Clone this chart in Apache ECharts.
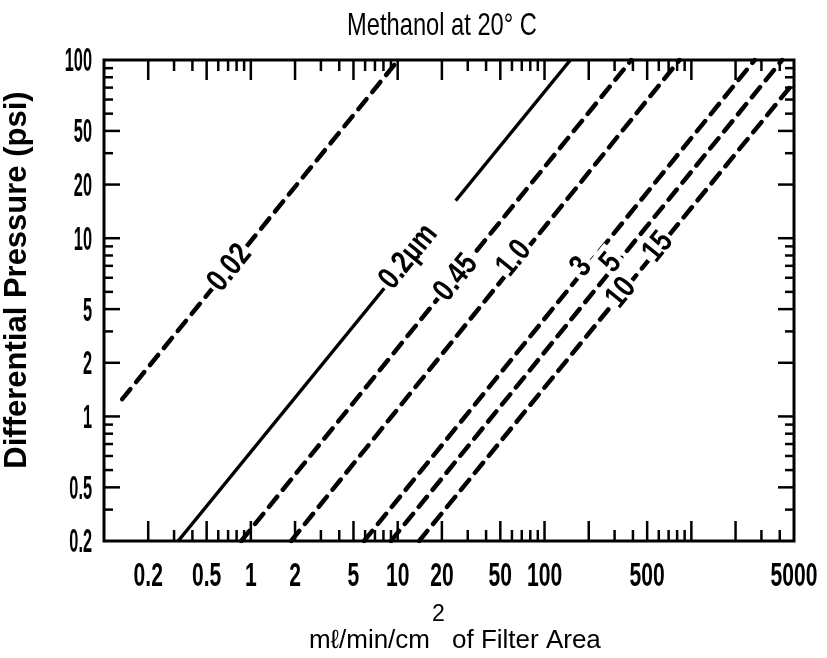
<!DOCTYPE html>
<html>
<head>
<meta charset="utf-8">
<title>Methanol at 20° C</title>
<script src="https://cdn.jsdelivr.net/npm/echarts@6/dist/echarts.min.js"></script>
<style>
  html, body { margin: 0; padding: 0; background: #fff; }
  #main { width: 827px; height: 658px; }
</style>
</head>
<body>
<div id="main"></div>
<script>
// axis ranges (flow in ml/min/cm2, pressure in psi)
var xMin = 0.1, xMax = 5000;
var yMin = 0.2, yMax = 100;

// tick marks
var xTicks = [0.2, 0.3, 0.4, 0.5, 0.6, 0.7, 0.8, 0.9, 1, 2, 3, 4, 5, 6, 7, 8, 9,
  10, 20, 30, 40, 50, 60, 70, 80, 90, 100, 200, 300, 400, 500, 600, 700, 800, 900,
  1000, 2000, 3000, 4000];
var xMajor = [0.2, 0.5, 1, 2, 5, 10, 20, 50, 100, 200, 500, 1000, 2000];
var yTicks = [0.3, 0.4, 0.5, 0.6, 0.7, 0.8, 0.9, 1, 2, 3, 4, 5, 6, 7, 8, 9,
  10, 20, 30, 40, 50, 60, 70, 80, 90];
var yMajor = [40, 20, 10, 4, 2, 1, 0.4];

// tick labels (the y labels sit where the original printed them)
var xLabelVals = [0.2, 0.5, 1, 2, 5, 10, 20, 50, 100, 500, 5000];
var xLabelText = ['0.2', '0.5', '1', '2', '5', '10', '20', '50', '100', '500', '5000'];
var yLabelVals = [100, 40, 20, 10, 4, 2, 1, 0.4, 0.2];
var yLabelText = ['100', '50', '20', '10', '5', '2', '1', '0.5', '0.2'];

// pore size lines: [flow, pressure] end points
var line002 = [[0.133, 1.25], [10.1, 100]];
var line02 = [[0.32, 0.2], [150, 100]];
var line045 = [[0.86, 0.2], [390, 100]];
var line10 = [[1.88, 0.2], [830, 100]];
var line3 = [[5.9, 0.2], [2700, 100]];
var line5 = [[9.0, 0.2], [4150, 100]];
var line1015 = [[14, 0.2], [5000, 75]];

// labels written on the lines
var lblText = ['0.02', '0.2\u00b5m', '0.45', '1.0', '3', '5', '10', '15'];
var lblFlow = [0.72, 14, 25, 62, 178, 284, 333, 594];
var lblPress = [6.8, 9.3, 6.0, 7.7, 6.9, 7.26, 4.93, 8.93];

var chart = echarts.init(document.getElementById('main'));

var FONT = '"Liberation Sans", Arial, sans-serif';
var ROT = 51 * Math.PI / 180;
var lblPad = [[2, 3, 2, 3], [2, 46, 2, 4], [2, 3, 2, 3], [2, 3, 2, 3],
  [2, 5, 2, 5], [2, 5, 2, 5], [2, 3, 2, 3], [2, 3, 2, 3]];

function nameText(text, x, y, size, align) {
  return {
    type: 'text', x: x, y: y, z: 10,
    style: {
      text: text, fontSize: size, fontFamily: 'Liberation Sans', fill: '#000',
      align: align, verticalAlign: 'middle',
      textAlign: align, textVerticalAlign: 'middle'
    }
  };
}

function dashed(data, solid) {
  return {
    type: 'line',
    data: data,
    symbol: 'none',
    z: 2,
    lineStyle: {
      color: '#000',
      width: solid ? 3.5 : 4.5,
      type: solid ? 'solid' : [13, 9],
      cap: solid ? 'butt' : 'round'
    }
  };
}

var option = {
  animation: false,
  backgroundColor: '#fff',
  grid: {
    show: true,
    left: 104, top: 60, width: 690, height: 481,
    borderColor: '#000', borderWidth: 3,
    outerBoundsMode: 'none'
  },
  xAxis: {
    type: 'log', logBase: 10, min: xMin, max: xMax,
    axisLine: { show: false }, axisTick: { show: false },
    axisLabel: { show: false }, splitLine: { show: false }
  },
  yAxis: {
    type: 'log', logBase: 10, min: yMin, max: yMax,
    axisLine: { show: false }, axisTick: { show: false },
    axisLabel: { show: false }, splitLine: { show: false }
  },
  graphic: [
    {
      type: 'text', x: 442, y: 26, z: 10, scaleX: 0.74,
      style: {
        text: 'Methanol at 20\u00b0 C', font: '32px ' + FONT, fill: '#000',
        align: 'center', verticalAlign: 'middle',
        textAlign: 'center', textVerticalAlign: 'middle'
      }
    },
    {
      type: 'text', x: 17, y: 280, rotation: Math.PI / 2, z: 10,
      style: {
        text: 'Differential Pressure (psi)', font: 'bold 31px ' + FONT, fill: '#000',
        align: 'center', verticalAlign: 'middle',
        textAlign: 'center', textVerticalAlign: 'middle'
      }
    },
    nameText('m\u2113/min/cm', 430, 641, 26, 'right'),
    nameText('2', 432, 615, 23, 'left'),
    nameText('of Filter Area', 452, 641, 26, 'left')
  ],
  series: [
    dashed(line002),
    dashed(line02, true),
    dashed(line045),
    dashed(line10),
    dashed(line3),
    dashed(line5),
    dashed(line1015),
    {
      // x ticks, bottom and top, pointing inward
      type: 'custom', clip: false, z: 5,
      data: xTicks.map(function (v) { return [v, yMin]; }),
      renderItem: function (params, api) {
        var v = api.value(0);
        var len = xMajor.indexOf(v) >= 0 ? 20 : 11;
        var b = api.coord([v, yMin]);
        var t = api.coord([v, yMax]);
        var st = { stroke: '#000', lineWidth: 2.5 };
        return {
          type: 'group', children: [
            { type: 'line', shape: { x1: b[0], y1: b[1], x2: b[0], y2: b[1] - len }, style: st },
            { type: 'line', shape: { x1: t[0], y1: t[1], x2: t[0], y2: t[1] + len }, style: st }
          ]
        };
      }
    },
    {
      // y ticks, left and right, pointing inward
      type: 'custom', clip: false, z: 5,
      data: yTicks.map(function (v) { return [xMin, v]; }),
      renderItem: function (params, api) {
        var v = api.value(1);
        var len = yMajor.indexOf(v) >= 0 ? 16 : 9;
        var l = api.coord([xMin, v]);
        var r = api.coord([xMax, v]);
        var st = { stroke: '#000', lineWidth: 2.5 };
        return {
          type: 'group', children: [
            { type: 'line', shape: { x1: l[0], y1: l[1], x2: l[0] + len, y2: l[1] }, style: st },
            { type: 'line', shape: { x1: r[0], y1: r[1], x2: r[0] - len, y2: r[1] }, style: st }
          ]
        };
      }
    },
    {
      // x tick labels
      type: 'custom', clip: false, z: 6,
      data: xLabelVals.map(function (v) { return [v, yMin]; }),
      renderItem: function (params, api) {
        var p = api.coord([api.value(0), yMin]);
        return {
          type: 'text', x: p[0], y: p[1] + 36, scaleX: 0.62,
          style: {
            text: xLabelText[params.dataIndex], font: 'bold 34px ' + FONT, fill: '#000',
            align: 'center', verticalAlign: 'middle',
            textAlign: 'center', textVerticalAlign: 'middle'
          }
        };
      }
    },
    {
      // y tick labels
      type: 'custom', clip: false, z: 6,
      data: yLabelVals.map(function (v) { return [xMin, v]; }),
      renderItem: function (params, api) {
        var p = api.coord([xMin, api.value(1)]);
        return {
          type: 'text', x: p[0] - 12, y: p[1] + 2, scaleX: 0.48,
          style: {
            text: yLabelText[params.dataIndex], font: 'bold 34px ' + FONT, fill: '#000',
            align: 'right', verticalAlign: 'middle',
            textAlign: 'right', textVerticalAlign: 'middle'
          }
        };
      }
    },
    {
      // pore size labels along the lines
      type: 'custom', clip: false, z: 8,
      data: lblFlow.map(function (v, i) { return [v, lblPress[i]]; }),
      renderItem: function (params, api) {
        var p = api.coord([api.value(0), api.value(1)]);
        return {
          type: 'text', x: p[0], y: p[1], rotation: ROT, scaleX: 0.8,
          style: {
            text: lblText[params.dataIndex], font: 'bold 32px ' + FONT, fill: '#000',
            align: 'center', verticalAlign: 'middle',
            textAlign: 'center', textVerticalAlign: 'middle',
            backgroundColor: '#fff', padding: lblPad[params.dataIndex]
          }
        };
      }
    }
  ]
};

chart.setOption(option);
</script>
</body>
</html>
